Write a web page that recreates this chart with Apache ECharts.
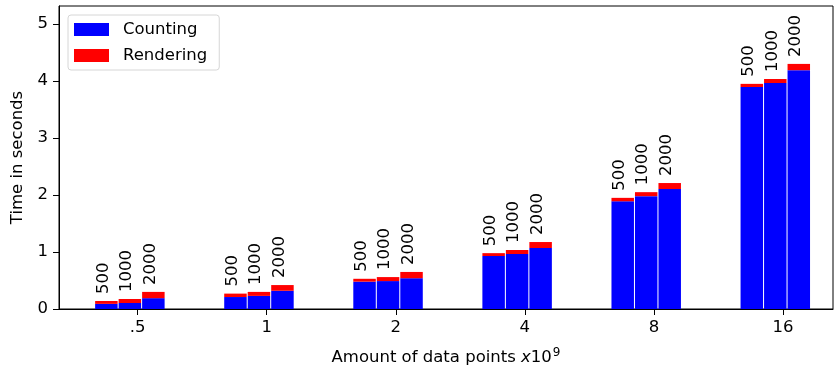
<!DOCTYPE html>
<html><head><meta charset="utf-8">
<script src="https://cdn.jsdelivr.net/npm/echarts@6/dist/echarts.min.js"></script>
<style>html,body{margin:0;padding:0;background:#fff}#c{width:835px;height:369px}</style>
</head><body><div id="c"></div><script>
const categories = ['.5', '1', '2', '4', '8', '16'];
const resolutions = ['500', '1000', '2000'];
const counting500  = [0.09, 0.21, 0.48, 0.93, 1.89, 3.895];
const counting1000 = [0.105, 0.23, 0.49, 0.965, 1.98, 3.965];
const counting2000 = [0.19, 0.32, 0.54, 1.07, 2.105, 4.19];
const rendering500  = [0.05, 0.06, 0.05, 0.05, 0.06, 0.055];
const rendering1000 = [0.07, 0.07, 0.07, 0.07, 0.07, 0.07];
const rendering2000 = [0.11, 0.10, 0.11, 0.105, 0.105, 0.11];
const yTicks = [0, 1, 2, 3, 4, 5];

const countingByRes = [counting500, counting1000, counting2000];
const renderingByRes = [rendering500, rendering1000, rendering2000];
const data = [];
categories.forEach((c, g) => resolutions.forEach((r, b) => {
  data.push([g, b, countingByRes[b][g], renderingByRes[b][g]]);
}));

const FONT = 'DejaVu Sans';
const FS = 16.5;
const OFFS = [-0.242, -0.06, 0.122];
const BW = 0.182;

function rectFor(api, lo, hi, color) {
  const g = api.value(0), b = api.value(1);
  const x0 = g + OFFS[b] - BW / 2, x1 = g + OFFS[b] + BW / 2;
  const p0 = api.coord([x0, lo]);
  const p1 = api.coord([x1, hi]);
  return {
    type: 'rect',
    shape: { x: p0[0] + 0.5, y: p1[1], width: p1[0] - p0[0] - 1, height: p0[1] - p1[1] },
    style: { fill: color }
  };
}

const chart = echarts.init(document.getElementById('c'));
chart.setOption({
  animation: false,
  backgroundColor: '#fff',
  grid: { left: 59, right: 2, top: 6, bottom: 60, outerBoundsMode: 'none', containLabel: false, show: true, borderColor: '#000', borderWidth: 1, backgroundColor: 'transparent' },
  legend: {
    orient: 'vertical', left: 68, top: 15,
    data: ['Counting', 'Rendering'],
    icon: 'rect', itemWidth: 35, itemHeight: 13, itemGap: 9,
    padding: [6, 12, 6, 6],
    borderColor: '#d6d6d6', borderWidth: 1, borderRadius: 3,
    backgroundColor: 'rgba(255,255,255,0.8)',
    textStyle: { fontFamily: FONT, fontSize: FS, color: '#000', padding: [0, 0, 0, 9] }
  },
  xAxis: {
    type: 'value', min: -0.609, max: 5.387,
    splitLine: { show: false },
    axisLine: { show: true, onZero: false, lineStyle: { color: '#000', width: 1 } },
    axisTick: { show: true, length: 6, customValues: [0, 1, 2, 3, 4, 5], lineStyle: { color: '#000' } },
    axisLabel: {
      customValues: [0, 1, 2, 3, 4, 5], margin: 10,
      formatter: v => categories[Math.round(v)],
      fontFamily: FONT, fontSize: FS, color: '#000'
    },
    name: '{a|Amount of data points }{i|x}{a|10}{s|9}',
    nameLocation: 'middle', nameGap: 38,
    nameTextStyle: {
      rich: {
        a: { fontFamily: FONT, fontSize: FS, color: '#000' },
        i: { fontFamily: FONT, fontSize: FS, fontStyle: 'italic', color: '#000' },
        s: { fontFamily: FONT, fontSize: 12, color: '#000', padding: [0, 0, 9, 1] }
      }
    }
  },
  yAxis: {
    type: 'value', min: 0, max: 5.316,
    splitLine: { show: false },
    axisLine: { show: true, onZero: false, lineStyle: { color: '#000', width: 1 } },
    axisTick: { show: true, length: 6, customValues: yTicks, lineStyle: { color: '#000' } },
    axisLabel: { customValues: yTicks, margin: 11, fontFamily: FONT, fontSize: FS, color: '#000' },
    name: 'Time in seconds', nameLocation: 'middle', nameGap: 26,
    nameTextStyle: { fontFamily: FONT, fontSize: FS, color: '#000' }
  },
  series: [
    {
      name: 'Counting', type: 'custom', data: data,
      encode: { x: 0, y: 2 },
      itemStyle: { color: '#0000ff' },
      renderItem: (params, api) => rectFor(api, 0, api.value(2), '#0000ff')
    },
    {
      name: 'Rendering', type: 'custom', data: data,
      encode: { x: 0, y: 3 },
      itemStyle: { color: '#ff0000' },
      renderItem: (params, api) => rectFor(api, api.value(2), api.value(2) + api.value(3), '#ff0000')
    },
    {
      name: 'labels', type: 'custom', data: data,
      encode: { x: 0, y: 3 },
      silent: true,
      renderItem: (params, api) => {
        const g = api.value(0), b = api.value(1);
        const p = api.coord([g + OFFS[b], api.value(2) + api.value(3)]);
        return {
          type: 'text', x: p[0] - 3, y: p[1] - 7, rotation: Math.PI / 2,
          style: { text: resolutions[b], fill: '#000', fontFamily: FONT, fontSize: FS, align: 'left', verticalAlign: 'middle' }
        };
      }
    }
  ]
});
</script></body></html>
